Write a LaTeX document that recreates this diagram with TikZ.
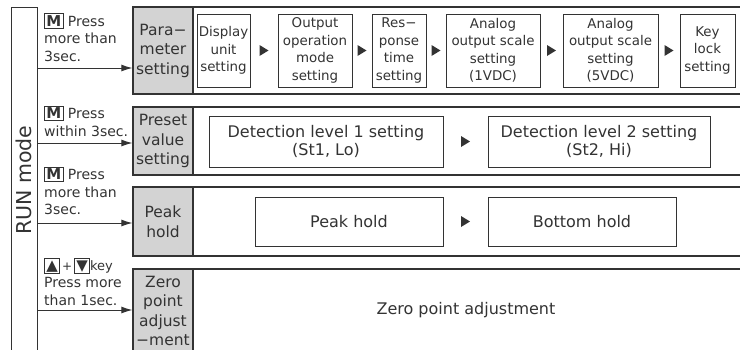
\documentclass[tikz,border=0pt]{standalone}
\usepackage{fontspec}
\setmainfont{DejaVu Sans}
\usetikzlibrary{arrows.meta}
\definecolor{linec}{HTML}{333333}
\definecolor{cellgray}{HTML}{D3D3D3}
\newcommand\keybox[1]{{\setlength\fboxsep{1.2pt}\setlength\fboxrule{1pt}\fbox{#1}}}

\begin{document}
\begin{tikzpicture}[x=1pt,y=-1pt,>={Latex[length=11pt,width=7pt]},
    every node/.style={text=linec},
    panel/.style={draw=linec,line width=1.4pt},
    cell/.style={draw=linec,line width=1.2pt,fill=cellgray,minimum width=60,align=center,inner sep=0pt,font=\fontsize{15.5}{19.5}\selectfont},
    box/.style={draw=linec,line width=0.9pt,align=center,inner sep=0pt,minimum height=73,font=\fontsize{13.4}{17.5}\selectfont},
    bigbox/.style={draw=linec,line width=0.9pt,align=center,inner sep=0pt,font=\fontsize{16}{18}\selectfont},
    lbl/.style={anchor=west,align=left,inner sep=0pt,font=\fontsize{14}{17.5}\selectfont}]
\useasboundingbox (0,0) rectangle (740,349);

\node[draw=linec,line width=0.9pt,rotate=90,minimum width=346,minimum height=26,font=\fontsize{20.5}{24}\selectfont] (run) at (24,180) {RUN mode};

% gray heads of the four rows
\node[cell,minimum height=87] (par) at (163,50.5) {Para−\\meter\\setting};
\node[cell,minimum height=68] (pre) at (163,141) {Preset\\value\\setting};
\node[cell,minimum height=69] (pk) at (163,221.5) {Peak\\hold};
\node[cell,minimum height=84] (zp) at (163,311) {Zero\\point\\adjust\\−ment};

\draw[panel] (740,7) -| (133,94) -- (740,94);
\draw[panel] (740,107) -| (133,175) -- (740,175);
\draw[panel] (740,187) -| (133,256) -- (740,256);
\draw[panel] (740,269) -| (133,352);

\node[box,minimum width=53] (disp) at (223.5,50.5) {Display\\unit\\setting};
\node[box,minimum width=74] (outop) at (315,50.5) {Output\\operation\\mode\\setting};
\node[box,minimum width=54] (resp) at (399,50.5) {Res−\\ponse\\time\\setting};
\node[box,minimum width=94] (anlo) at (493,50.5) {Analog\\output scale\\setting\\(1VDC)};
\node[box,minimum width=95] (anhi) at (610.5,50.5) {Analog\\output scale\\setting\\(5VDC)};
\node[box,minimum width=55] (lock) at (707.5,50.5) {Key\\lock\\setting};

\node[bigbox,minimum width=234,minimum height=51] (detlo) at (326,141.5) {Detection level 1 setting\\(St1, Lo)};
\node[bigbox,minimum width=222,minimum height=51] (dethi) at (599,141.5) {Detection level 2 setting\\(St2, Hi)};
\node[bigbox,minimum width=188,minimum height=49] (peak) at (349,221.5) {Peak hold};
\node[bigbox,minimum width=188,minimum height=49] (bottom) at (582,221.5) {Bottom hold};
\node[font=\fontsize{16}{18}\selectfont] (zero) at (466,310) {Zero point adjustment};

\foreach \a/\b in {disp/outop,outop/resp,resp/anlo,anlo/anhi,anhi/lock,detlo/dethi,peak/bottom}
{
    \path (\a.east) -- coordinate (m) (\b.west);
    \fill[linec] (m) ++(-4.5,-5.5) -- ++(9,5.5) -- ++(-9,5.5) -- cycle;
}

% key presses
\node[lbl] (t1) at (44,37.5) {\keybox{\fontsize{15}{15}\selectfont\textbf{M}} Press\\more than\\3sec.};
\node[lbl] (t2) at (44,121) {\keybox{\fontsize{15}{15}\selectfont\textbf{M}} Press\\within 3sec.};
\node[lbl] (t3) at (44,191) {\keybox{\fontsize{15}{15}\selectfont\textbf{M}} Press\\more than\\3sec.};
\node[lbl] (t4) at (44,282) {\keybox{\fontsize{15}{15}\selectfont ▲}{\fontsize{12}{13}\selectfont\,+\,}\keybox{\fontsize{15}{15}\selectfont ▼}{\fontsize{13}{13}\selectfont key}\\Press more\\than 1sec.};

\foreach \y/\c [count=\i] in {68/par,143/pre,223/pk,310/zp}
{
    \coordinate (s\i) at (37,\y);
    \draw[->,linec,line width=1pt] (s\i) -- (s\i -| \c.west);
}
\end{tikzpicture}
\end{document}
